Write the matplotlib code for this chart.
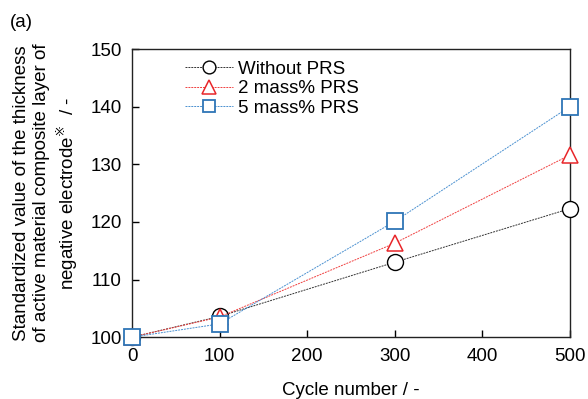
import matplotlib.pyplot as plt

plt.rcParams['font.family'] = ['Liberation Sans', 'DejaVu Sans']
plt.rcParams['mathtext.fontset'] = 'dejavusans'

cycles = [0, 100, 300, 500]
without_prs = [100.0, 103.6, 113.0, 122.3]
prs_2 = [100.0, 103.5, 116.3, 131.6]
prs_5 = [100.0, 102.3, 120.1, 140.0]

fig = plt.figure(figsize=(5.88, 3.99), dpi=100)
ax = fig.add_axes([0.2245, 0.155, 0.7445, 0.722])

ax.plot(cycles, without_prs, linestyle=(0, (2, 1)), color='#333333', lw=0.7,
        marker='o', ms=11.5, mfc='white', mec='black', mew=1.0,
        label='Without PRS', zorder=7, clip_on=False)
ax.plot(cycles, prs_2, linestyle=(0, (2, 1)), color='#f04040', lw=0.7,
        marker='^', ms=12, mfc='white', mec='#e8262a', mew=1.1,
        label='2 mass% PRS', zorder=8, clip_on=False)
ax.plot(cycles, prs_5, linestyle=(0, (2, 1)), color='#4a90d0', lw=0.7,
        marker='s', ms=11, mfc='white', mec='#2e75b6', mew=1.3,
        label='5 mass% PRS', zorder=9, clip_on=False)

ax.set_xlim(0, 500)
ax.set_ylim(100, 150)
ax.set_xticks([0, 100, 200, 300, 400, 500])
ax.set_yticks([100, 110, 120, 130, 140, 150])
ax.tick_params(direction='in', labelsize=13.5, length=5, width=1)
ax.tick_params(axis='x', pad=8)
ax.tick_params(axis='y', pad=7.5)
for s in ax.spines.values():
    s.set_linewidth(1.0)
    s.set_color('#222222')

ax.set_xlabel('Cycle number / -', fontsize=13.5, labelpad=12)
ax.set_ylabel('Standardized value of the thickness\n'
              'of active material composite layer of\n'
              'negative electrode$^{※}$  / -', fontsize=13.5, labelpad=7,
              linespacing=1.25)

ax.legend(loc='upper left', bbox_to_anchor=(0.09, 1.005), frameon=False,
          fontsize=13.5, handlelength=2.6, handletextpad=0.25,
          labelspacing=0.12, borderaxespad=0.3, markerscale=0.8)

fig.text(0.017, 0.965, '(a)', fontsize=13.5, va='top')

fig.savefig('out.png', dpi=100)
